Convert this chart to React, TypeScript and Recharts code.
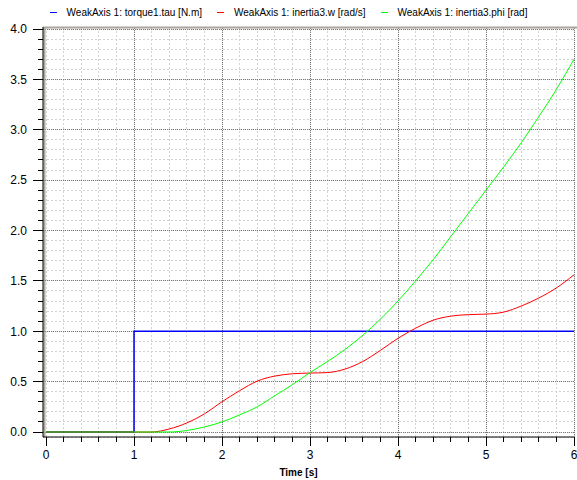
import React from 'react';
import { LineChart, Line, XAxis, YAxis, CartesianGrid, ReferenceLine } from 'recharts';

// ---- data ----
const timeGrid = [0, 0.2, 0.4, 0.6, 0.8, 1.0, 1.2, 1.4, 1.6, 1.8, 2.0, 2.2, 2.4, 2.6, 2.8, 3.0, 3.2, 3.4, 3.6, 3.8, 4.0, 4.2, 4.4, 4.6, 4.8, 5.0, 5.2, 5.4, 5.6, 5.8, 6.0];
const inertia3W = [0, 0, 0, 0, 0, 0, 0, 0.03, 0.09, 0.18, 0.3, 0.41, 0.505, 0.555, 0.578, 0.585, 0.59, 0.625, 0.7, 0.81, 0.93, 1.03, 1.11, 1.15, 1.165, 1.17, 1.19, 1.25, 1.33, 1.43, 1.56];
const inertia3Phi = [0, 0, 0, 0, 0, 0, 0, 0, 0.015, 0.05, 0.1, 0.17, 0.25, 0.36, 0.47, 0.59, 0.7, 0.82, 0.96, 1.12, 1.3, 1.5, 1.71, 1.94, 2.17, 2.4, 2.63, 2.87, 3.13, 3.4, 3.7];
const torqueTime = [0, 1, 1, 6];
const torqueTau = [0, 0, 1, 1];

const xTicks = [0, 0.2, 0.4, 0.6, 0.8, 1, 1.2, 1.4, 1.6, 1.8, 2, 2.2, 2.4, 2.6, 2.8, 3, 3.2, 3.4, 3.6, 3.8, 4, 4.2, 4.4, 4.6, 4.8, 5, 5.2, 5.4, 5.6, 5.8, 6];
const xMajor = [1, 2, 3, 4, 5, 6];
const yTicks = [0, 0.1, 0.2, 0.3, 0.4, 0.5, 0.6, 0.7, 0.8, 0.9, 1, 1.1, 1.2, 1.3, 1.4, 1.5, 1.6, 1.7, 1.8, 1.9, 2, 2.1, 2.2, 2.3, 2.4, 2.5, 2.6, 2.7, 2.8, 2.9, 3, 3.1, 3.2, 3.3, 3.4, 3.5, 3.6, 3.7, 3.8, 3.9, 4];
const yMajor = [0, 0.5, 1, 1.5, 2, 2.5, 3, 3.5, 4];

const seriesNames = ['WeakAxis 1: torque1.tau [N.m]', 'WeakAxis 1: inertia3.w [rad/s]', 'WeakAxis 1: inertia3.phi [rad]'];
const seriesColors = ['#0000ff', '#ff0000', '#00ff00'];

const mainData = timeGrid.map((t, i) => ({ t, w: inertia3W[i], phi: inertia3Phi[i] }));
const torqueData = torqueTime.map((t, i) => ({ t, tau: torqueTau[i] }));

const isMajor = (v: number, step: number) => Math.abs(v / step - Math.round(v / step)) < 1e-6;

const FONT = "'Liberation Sans', Arial, sans-serif";

const YTick = (p: any) => {
  const v = p.payload.value;
  const major = isMajor(v, 0.5);
  return (
    <g>
      <line x1={p.x - (major ? 10 : 5)} y1={p.y} x2={p.x} y2={p.y} stroke="#000" shapeRendering="crispEdges" />
      {major && (
        <text x={p.x - 16} y={p.y} dy="0.36em" textAnchor="end" fontSize={12} fontFamily={FONT} fill="#000">
          {v.toFixed(1)}
        </text>
      )}
    </g>
  );
};

const XTick = (p: any) => {
  const v = p.payload.value;
  const major = isMajor(v, 1);
  return (
    <g>
      <line x1={p.x} y1={p.y} x2={p.x} y2={p.y + (major ? 9 : 5)} stroke="#000" shapeRendering="crispEdges" />
      {major && (
        <text x={p.x} y={p.y + 22} textAnchor="middle" fontSize={12} fontFamily={FONT} fill="#000">
          {String(v)}
        </text>
      )}
    </g>
  );
};

const FRAME = '#aaa69c';

export default function App() {
  return (
    <div style={{ position: 'absolute', left: 0, top: 0, width: 577, height: 480, background: '#fff' }}>
      <div
        style={{
          position: 'absolute',
          left: 0,
          top: 6,
          width: 577,
          display: 'flex',
          justifyContent: 'center',
          fontFamily: FONT,
          fontSize: 10,
          lineHeight: '13px',
          color: '#000',
        }}
      >
        {seriesNames.map((n, i) => (
          <div key={n} style={{ display: 'flex', alignItems: 'center', marginRight: i < 2 ? 15 : 0 }}>
            <span style={{ display: 'inline-block', width: 7, height: 1, background: seriesColors[i], marginRight: 10 }} />
            <span>{n}</span>
          </div>
        ))}
      </div>
      <LineChart width={577} height={480} margin={{ top: 27, right: 3, bottom: 0, left: 0 }}>
        <CartesianGrid stroke="#d2d2d2" strokeDasharray="2 2" shapeRendering="crispEdges" />
        {xMajor.map((v) => (
          <ReferenceLine key={'xm' + v} x={v} stroke="#7a7a7a" strokeDasharray="1 1" shapeRendering="crispEdges" />
        ))}
        {yMajor.map((v) => (
          <ReferenceLine key={'ym' + v} y={v} stroke="#7a7a7a" strokeDasharray="1 1" shapeRendering="crispEdges" />
        ))}
        <ReferenceLine
          x={0}
          shape={(p: any) => (
            <line x1={p.x1 - 1.5} y1={p.y1} x2={p.x2 - 1.5} y2={p.y2} stroke={FRAME} strokeWidth={2} />
          )}
        />
        <ReferenceLine
          y={4}
          shape={(p: any) => (
            <line x1={p.x1} y1={p.y1 - 1.5} x2={p.x2 + 3} y2={p.y2 - 1.5} stroke={FRAME} strokeWidth={2} />
          )}
        />
        <XAxis
          dataKey="t"
          type="number"
          domain={[0, 6]}
          ticks={xTicks}
          interval={0}
          height={43}
          padding={{ left: 3, right: 0 }}
          tickSize={0}
          tickMargin={0}
          tickLine={false}
          axisLine={{ stroke: '#000' }}
          tick={XTick}
          allowDuplicatedCategory={false}
          label={{ value: 'Time [s]', position: 'insideBottom', offset: 4, fontSize: 10, fontWeight: 'bold', fontFamily: FONT, fill: '#000', dx: -10 }}
        />
        <YAxis
          type="number"
          domain={[0, 4]}
          ticks={yTicks}
          interval={0}
          width={43}
          padding={{ top: 2, bottom: 5 }}
          tickSize={0}
          tickMargin={0}
          tickLine={false}
          axisLine={{ stroke: '#000' }}
          tick={YTick}
        />
        <Line data={torqueData} dataKey="tau" type="linear" stroke={seriesColors[0]} strokeWidth={1.5} dot={false} isAnimationActive={false} />
        <Line data={mainData} dataKey="w" type="monotone" stroke={seriesColors[1]} strokeWidth={1} dot={false} isAnimationActive={false} />
        <Line data={mainData} dataKey="phi" type="monotone" stroke={seriesColors[2]} strokeWidth={1} dot={false} isAnimationActive={false} />
      </LineChart>
    </div>
  );
}
